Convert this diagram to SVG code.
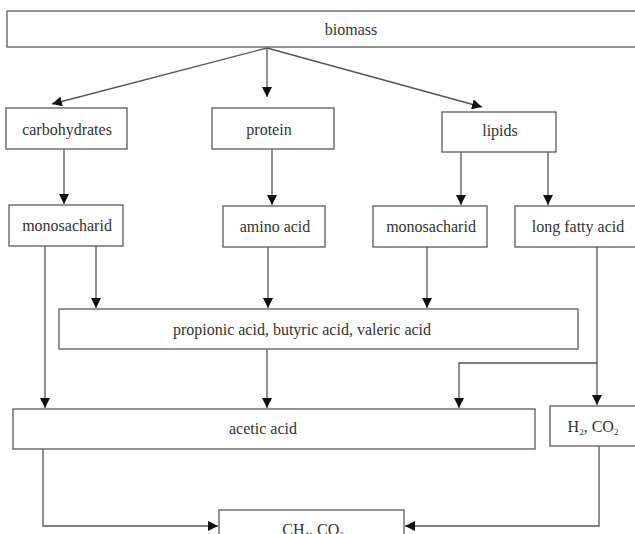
<svg xmlns="http://www.w3.org/2000/svg" width="635" height="534" viewBox="0 0 635 534">
<style>
.box{fill:#fff;stroke:#666;stroke-width:1.4}
.t{font-family:"Liberation Serif","Times New Roman",serif;font-size:16px;fill:#333;text-anchor:middle}
.c{fill:none;stroke:#555;stroke-width:1.3}
.s{font-size:9px}
</style>
<defs>
<marker id="ah" viewBox="0 0 10 10" refX="10" refY="5" markerWidth="10" markerHeight="10" markerUnits="userSpaceOnUse" orient="auto">
<path d="M0,0 L10,5 L0,10 Z" fill="#111"/>
</marker>
</defs>
<rect width="635" height="534" fill="#fff"/>
<g id="connectors">
<line class="c" x1="267" y1="48" x2="52" y2="104" marker-end="url(#ah)"/>
<line class="c" x1="267" y1="48" x2="267" y2="97" marker-end="url(#ah)"/>
<line class="c" x1="267" y1="48" x2="482" y2="107" marker-end="url(#ah)"/>
<line class="c" x1="64" y1="149" x2="64" y2="204" marker-end="url(#ah)"/>
<line class="c" x1="272" y1="149" x2="272" y2="205" marker-end="url(#ah)"/>
<line class="c" x1="461" y1="152" x2="461" y2="205" marker-end="url(#ah)"/>
<line class="c" x1="548" y1="152" x2="548" y2="205" marker-end="url(#ah)"/>
<line class="c" x1="45" y1="246" x2="45" y2="408" marker-end="url(#ah)"/>
<line class="c" x1="96" y1="246" x2="96" y2="308" marker-end="url(#ah)"/>
<line class="c" x1="268" y1="247" x2="268" y2="308" marker-end="url(#ah)"/>
<line class="c" x1="427" y1="247" x2="427" y2="308" marker-end="url(#ah)"/>
<line class="c" x1="597" y1="247" x2="597" y2="405" marker-end="url(#ah)"/>
<polyline class="c" points="597,363 459,363 459,408" marker-end="url(#ah)"/>
<line class="c" x1="267" y1="349" x2="267" y2="408" marker-end="url(#ah)"/>
<polyline class="c" points="43,449 43,526 218,526" marker-end="url(#ah)"/>
<polyline class="c" points="599,446 599,526 405,526" marker-end="url(#ah)"/>
</g>
<g id="biomass"><rect class="box" x="7" y="11" width="640" height="36"/><text class="t" x="351" y="35">biomass</text></g>
<g id="carbohydrates"><rect class="box" x="6" y="108" width="121" height="41"/><text class="t" x="67" y="135">carbohydrates</text></g>
<g id="protein"><rect class="box" x="212" y="108" width="122" height="41"/><text class="t" x="269" y="135">protein</text></g>
<g id="lipids"><rect class="box" x="442" y="112" width="114" height="40"/><text class="t" x="500" y="136">lipids</text></g>
<g id="monosacharid1"><rect class="box" x="9" y="205" width="114" height="41"/><text class="t" x="67" y="231">monosacharid</text></g>
<g id="aminoacid"><rect class="box" x="223" y="206" width="102" height="41"/><text class="t" x="275" y="232">amino acid</text></g>
<g id="monosacharid2"><rect class="box" x="373" y="206" width="114" height="41"/><text class="t" x="431" y="232">monosacharid</text></g>
<g id="longfattyacid"><rect class="box" x="515" y="206" width="130" height="41"/><text class="t" x="578" y="232">long fatty acid</text></g>
<g id="vfa"><rect class="box" x="59" y="309" width="519" height="40"/><text class="t" x="302" y="335">propionic acid, butyric acid, valeric acid</text></g>
<g id="aceticacid"><rect class="box" x="13" y="409" width="522" height="40"/><text class="t" x="263" y="434">acetic acid</text></g>
<g id="h2co2"><rect class="box" x="550" y="406" width="95" height="40"/><text class="t" x="593" y="432">H<tspan class="s" dy="3">2</tspan><tspan dy="-3">, CO</tspan><tspan class="s" dy="3">2</tspan></text></g>
<g id="ch4co2"><rect class="box" x="219" y="510" width="185" height="40"/><text class="t" x="313" y="535">CH<tspan class="s" dy="3">4</tspan><tspan dy="-3">, CO</tspan><tspan class="s" dy="3">2</tspan></text></g>
</svg>
